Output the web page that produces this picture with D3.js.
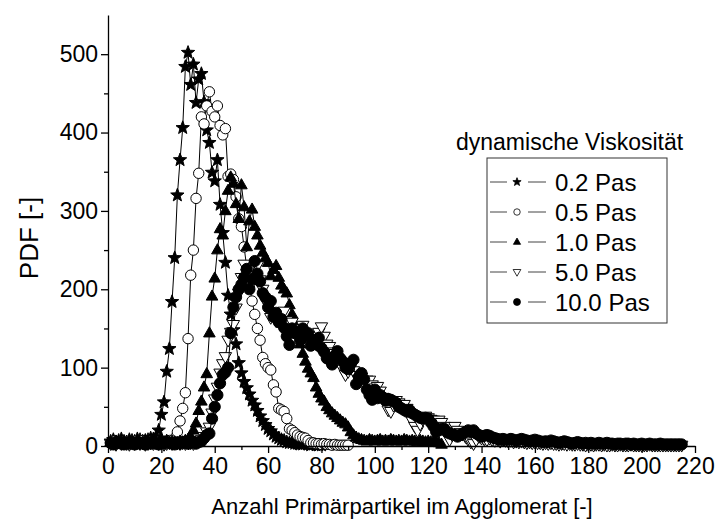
<!DOCTYPE html>
<html>
<head>
<meta charset="utf-8">
<script src="https://cdn.jsdelivr.net/npm/d3@7/dist/d3.min.js"></script>
<style>
  body { margin: 0; background: #fff; }
  text { font-family: "Liberation Sans", Arial, sans-serif; fill: #000; }
</style>
</head>
<body>
<div id="chart"></div>
<script>
var w = 721
var h = 529

// particle count per agglomerate (x), series start at 1
var counts = d3.range(1, 216);

var xTicks = [0, 20, 40, 60, 80, 100, 120, 140, 160, 180, 200, 220];
var xMinor = [10, 30, 50, 70, 90, 110, 130, 150, 170, 190, 210];
var yTicks = [0, 100, 200, 300, 400, 500];
var yMinor = [50, 150, 250, 350, 450];

var seriesNames = ["0.2 Pas", "0.5 Pas", "1.0 Pas", "5.0 Pas", "10.0 Pas"];

var pdf02 = [6,8,5,7,9,6,5,8,7,6, 9,8,6,7,8,10,9,12,20,40,
  56,95,124,184,240,320,365,406,484,502, 461,487,438,468,475,439,403,387,349,338,
  365,308,272,234,192,168,148,130,106,93, 82,74,66,58,52,45,38,32,27,22,
  19,15,12,10,8,7,5,4,4,3, 3,2,2,3,2,1,2,1,1,1];

var pdf05 = [4,6,3,5,7,4,6,5,3,6, 5,4,7,5,6,4,5,6,4,5, 6,5,7,6,
  10,18,32,48,68,137,
  218,250,316,348,420,411,434,452,427,420, 434,409,397,405,344,347,340,318,290,280,
  254,228,205,185,168,150,135,113,105,100, 97,78,69,48,46,44,35,22,20,17,
  14,12,11,10,7,4,4,3,3,2, 3,2,2,1,2,1,1,1,1,1];

var pdf10 = [5,3,6,4,7,5,4,6,5,3, 6,4,5,7,5,4,6,5,4,6, 5,7,4,6,5,4,6,5,7,
  8,12,20,29,45,57,75,92,144,191, 214,250,277,269,300,326,343,335,309,290,
  333,305,254,287,302,280,269,256,247,240, 234,217,225,230,215,205,200,195,180,168,
  155,145,130,118,108,99,93,87,75,67, 61,57,50,46,42,39,36,33,30,28,
  24,18,14,11,9,8,
  7,6,8,7,6,7,8,6,7,6, 8,7,6,7,6,8,7,6,7,6, 5,7,6,5,6,5,6,5,4,2];

var pdf50 = [3,4,2,5,3,4,3,2,4,3, 5,3,4,2,3,4,3,5,3,4, 2,3,4,3,5,4,3,4,3,5, 4,3,5,6,
  8,12,18,24,42,60,75,93,105,114, 135,145,155,176,195,215,232,220,211,225,
  218,230,212,200,185,180,164,170,160,168, 155,172,160,150,158,
  150,145,150,154,140,135,130,140,130,145, 152,140,130,127,120,118,112,105,98,91,
  95,100,96,90,85,88,80,84,84,78, 74,76,70,62,55,46,44,52,58,55,
  50,53,48,40,32,25,20,28,34,38, 36,34,33,32,33,30,25,15,8,14,
  25,20,17,15,12,8,5,3,8,12, 10,
  9,8,10,8,7,9,6,8,7,6, 7,5,6,5,6,5,4,5,4,5, 4,4,3,4,3,4,3,3,2,3,
  3,2,3,2,2,3,2,2,1,2, 2,1,2,2,1,2,1,1,2,1, 1,2,1,1,1,2,1,1,1,1,
  1,1,2,1,1,1,1,1,1,1, 1,1,1,1,1];

var pdf100 = [4,2,3,5,3,2,4,3,5,2, 3,4,3,2,4,3,5,3,2,4, 3,5,4,3,2,4,3,5,4,3, 4,5,3,5,
  6,10,14,16,35,50,65,80,91,94, 100,144,177,190,200,206,215,226,200,213,
  236,220,210,195,190,177,185,165,170,158, 162,151,140,129,150,144,144,135,150,140,
  144,128,135,130,138,125,120,112,110,104, 115,121,112,108,100,98,105,110,79,88,
  93,85,72,65,59,72,61,65,62,58, 60,59,57,55,50,48,46,44,46,42,
  40,38,36,35,36,35,30,25,18,20, 22,22,18,16,15,14,12,14,16,18,
  20,18,20,16,14,12,13,14,13,11, 10,9,8,9,8,8,9,8,7,8,
  9,8,7,6,7,8,7,6,5,6, 5,7,6,5,4,5,6,5,4,3,
  4,5,4,3,4,3,4,3,3,4, 3,3,4,3,3,2,3,3,2,3,
  3,2,3,2,2,3,2,2,3,2, 2,2,3,2,2,2,2,2,2,2, 2];

var allSeries = [pdf02, pdf05, pdf10, pdf50, pdf100];

// symbol shapes (path, fill) per series
function starPath(r) {
  var p = [];
  for (var k = 0; k < 10; k++) {
    var a = -Math.PI / 2 + k * Math.PI / 5;
    var rr = k % 2 ? r * 0.42 : r;
    p.push([rr * Math.cos(a), rr * Math.sin(a)]);
  }
  return "M" + p.join("L") + "Z";
}
function circlePath(r) {
  return "M" + r + ",0A" + r + "," + r + " 0 1,1 " + (-r) + ",0A" + r + "," + r + " 0 1,1 " + r + ",0Z";
}
function triUp(s) { return "M0," + (-s * 1.1) + "L" + s + "," + (s * 0.65) + "L" + (-s) + "," + (s * 0.65) + "Z"; }
function triDown(s) { return "M0," + (s * 1.1) + "L" + s + "," + (-s * 0.65) + "L" + (-s) + "," + (-s * 0.65) + "Z"; }

var symbols = [
  { path: function(k) { return starPath(7 * k); },   fill: "#000" },
  { path: function(k) { return circlePath(5.2 * k); }, fill: "#fff" },
  { path: function(k) { return triUp(5.8 * k); },    fill: "#000" },
  { path: function(k) { return triDown(6.2 * k); },    fill: "#fff" },
  { path: function(k) { return circlePath(5.6 * k); }, fill: "#000" }
];

var x = d3.scaleLinear().domain([0, 220]).range([108, 695]);
var y = d3.scaleLinear().domain([0, 550]).range([446, 15]);

var svg = d3.select("#chart").append("svg")
    .attr("width", w)
    .attr("height", h);

var line = d3.line()
    .x(function(d) { return x(d[0]); })
    .y(function(d) { return y(d[1]); });

allSeries.forEach(function(vals, i) {
  var pts = vals.map(function(v, j) { return [counts[j], v]; });
  var g = svg.append("g");
  g.append("path")
    .attr("d", line(pts))
    .attr("fill", "none")
    .attr("stroke", "#000")
    .attr("stroke-width", 1);
  g.selectAll("path.pt").data(pts).enter()
    .append("path")
      .attr("class", "pt")
      .attr("transform", function(d) { return "translate(" + x(d[0]) + "," + y(d[1]) + ")"; })
      .attr("d", symbols[i].path(1))
      .attr("fill", symbols[i].fill)
      .attr("stroke", "#000")
      .attr("stroke-width", 1);
});

// axes
svg.append("g")
    .attr("transform", "translate(0," + y(0) + ")")
    .call(d3.axisBottom(x).tickValues(xTicks).tickSize(7).tickSizeOuter(0).tickPadding(5));
svg.append("g")
    .attr("transform", "translate(0," + y(0) + ")")
    .call(d3.axisBottom(x).tickValues(xMinor).tickSize(4).tickFormat(""))
    .select(".domain").remove();

svg.append("g")
    .attr("transform", "translate(" + x(0) + ",0)")
    .call(d3.axisLeft(y).tickValues(yTicks).tickSize(7).tickSizeOuter(0).tickPadding(3));
svg.append("g")
    .attr("transform", "translate(" + x(0) + ",0)")
    .call(d3.axisLeft(y).tickValues(yMinor).tickSize(4).tickFormat(""))
    .select(".domain").remove();

svg.selectAll(".tick line, .domain").attr("stroke", "#000").attr("stroke-width", 1.3);
svg.selectAll(".tick text")
    .style("font-size", "23px")
    .style("font-family", "'Liberation Sans', Arial, sans-serif");

svg.append("text")
    .attr("transform", "translate(38,238) rotate(-90)")
    .attr("text-anchor", "middle")
    .style("font-size", "26px")
    .text("PDF [-]");

svg.append("text")
    .attr("x", 402)
    .attr("y", 514)
    .attr("text-anchor", "middle")
    .style("font-size", "22px")
    .text("Anzahl Primärpartikel im Agglomerat [-]");

// legend
svg.append("text")
    .attr("x", 456)
    .attr("y", 150)
    .style("font-size", "23px")
    .text("dynamische Viskosität");

svg.append("rect")
    .attr("x", 487)
    .attr("y", 158)
    .attr("width", 180)
    .attr("height", 165)
    .attr("fill", "#fff")
    .attr("stroke", "#333")
    .attr("stroke-width", 1);

var leg = svg.selectAll("g.leg").data(seriesNames).enter()
  .append("g")
    .attr("class", "leg")
    .attr("transform", function(d, i) { return "translate(0," + (182 + i * 30) + ")"; });

leg.append("line")
    .attr("x1", 490).attr("x2", 507).attr("y1", 0).attr("y2", 0)
    .attr("stroke", "#444");
leg.append("line")
    .attr("x1", 528).attr("x2", 546).attr("y1", 0).attr("y2", 0)
    .attr("stroke", "#444");
leg.append("path")
    .attr("transform", "translate(517,0)")
    .attr("d", function(d, i) { return symbols[i].path(0.62); })
    .attr("fill", function(d, i) { return symbols[i].fill; })
    .attr("stroke", "#000")
    .attr("stroke-width", 0.8);
leg.append("text")
    .attr("x", 555)
    .attr("y", 9)
    .style("font-size", "24px")
    .text(function(d) { return d; });
</script>
</body>
</html>
